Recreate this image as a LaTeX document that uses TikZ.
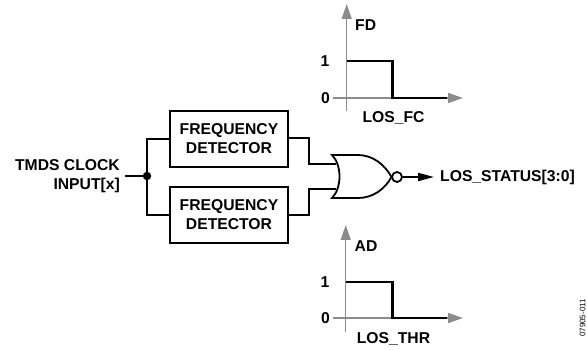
\documentclass[tikz,border=0pt]{standalone}
\usepackage{fontspec}
\setmainfont{Liberation Sans}
\usetikzlibrary{arrows.meta}
\definecolor{axisgray}{gray}{0.55}
\tikzset{
  x=1pt,y=-1pt,
  lbl/.style={inner sep=0pt,font=\fontsize{15.7}{19}\selectfont\bfseries},
  detbox/.style={draw=black,line width=1.8pt,minimum width=118pt,minimum height=56pt,inner sep=0pt,align=center,font=\fontsize{15.7}{19}\selectfont\bfseries},
  wire/.style={draw=black,line width=1.8pt},
  axis/.style={draw=axisgray,line width=1.5pt,-{Triangle[length=15pt,width=10pt]}},
  trace/.style={draw=black,line width=2.6pt,line join=miter},
}
\begin{document}
\begin{tikzpicture}
\useasboundingbox (0,0) rectangle (587,350);
% detectors
\node[detbox] (fd1) at (229,139) {FREQUENCY\\DETECTOR};
\node[detbox] (fd2) at (229,215) {FREQUENCY\\DETECTOR};
% input
\node[lbl,align=right,anchor=east] (in) at (120,176.5) {TMDS CLOCK\\INPUT[x]};
\coordinate (instart) at (125,176);
\coordinate (split) at (147,176);
\draw[wire] (instart) -- (split);
\draw[wire] (fd1.west) -| (split) |- (fd2.west);
\fill (split) circle (4.2);
% gate
\coordinate (gtop) at (332,155);
\coordinate (gbot) at (332,198);
\coordinate (gtip) at (391.5,177);
\coordinate (ga) at (335.5,164);
\coordinate (gb) at (335.5,189);
\draw[wire,line join=miter,fill=white] (gtop) .. controls (342,165) and (342,188) .. (gbot)
  -- (358,198) .. controls (373,198) and (385,189) .. (gtip)
  .. controls (385,165) and (373,155) .. (358,155) -- cycle;
\node[draw=black,line width=1.8pt,circle,minimum size=10pt,inner sep=0pt] (bub) at (397,177) {};
\coordinate (m1) at (309,138);
\coordinate (m2) at (309,215);
\draw[wire] (fd1.east |- m1) -- (m1) |- (ga);
\draw[wire] (fd2.east |- m2) -- (m2) |- (gb);
\node[lbl,anchor=west] (out) at (440,177) {LOS\_STATUS[3:0]};
\coordinate (outtip) at (434,177);
\draw[wire,-{Triangle[length=16pt,width=8pt]}] (bub.east) -- (outtip);
% top graph
\coordinate (a1o) at (346.7,111);
\coordinate (a1t) at (346.7,4);
\coordinate (a1l) at (333,98);
\coordinate (a1r) at (463,98);
\draw[axis] (a1o) -- (a1t);
\draw[axis] (a1l) -- (a1r);
\coordinate (t1a) at (346.7,61);
\coordinate (t1b) at (392.7,61);
\coordinate (t1c) at (392.7,98);
\coordinate (t1d) at (447,98);
\draw[trace] (t1a) -- (t1b) -- (t1c) -- (t1d);
\node[lbl,anchor=west] (fdl) at (355,25) {FD};
\node[lbl] (one1) at (325,61) {1};
\node[lbl] (zero1) at (325.5,98) {0};
\node[lbl] (fc) at (393.5,118) {LOS\_FC};
% bottom graph
\coordinate (a2o) at (345.7,332);
\coordinate (a2t) at (345.7,225);
\coordinate (a2l) at (333,318);
\coordinate (a2r) at (463,318);
\draw[axis] (a2o) -- (a2t);
\draw[axis] (a2l) -- (a2r);
\coordinate (t2a) at (345.7,282);
\coordinate (t2b) at (392.3,282);
\coordinate (t2c) at (392.3,318);
\coordinate (t2d) at (447,318);
\draw[trace] (t2a) -- (t2b) -- (t2c) -- (t2d);
\node[lbl,anchor=west] (adl) at (354.5,246) {AD};
\node[lbl] (one2) at (325,282) {1};
\node[lbl] (zero2) at (325.5,318) {0};
\node[lbl] (thr) at (393.5,339) {LOS\_THR};
% figure id
\node[inner sep=0pt,rotate=90,font=\fontsize{8}{10}\selectfont] (fid) at (582.5,318) {07905-011};
\end{tikzpicture}
\end{document}
